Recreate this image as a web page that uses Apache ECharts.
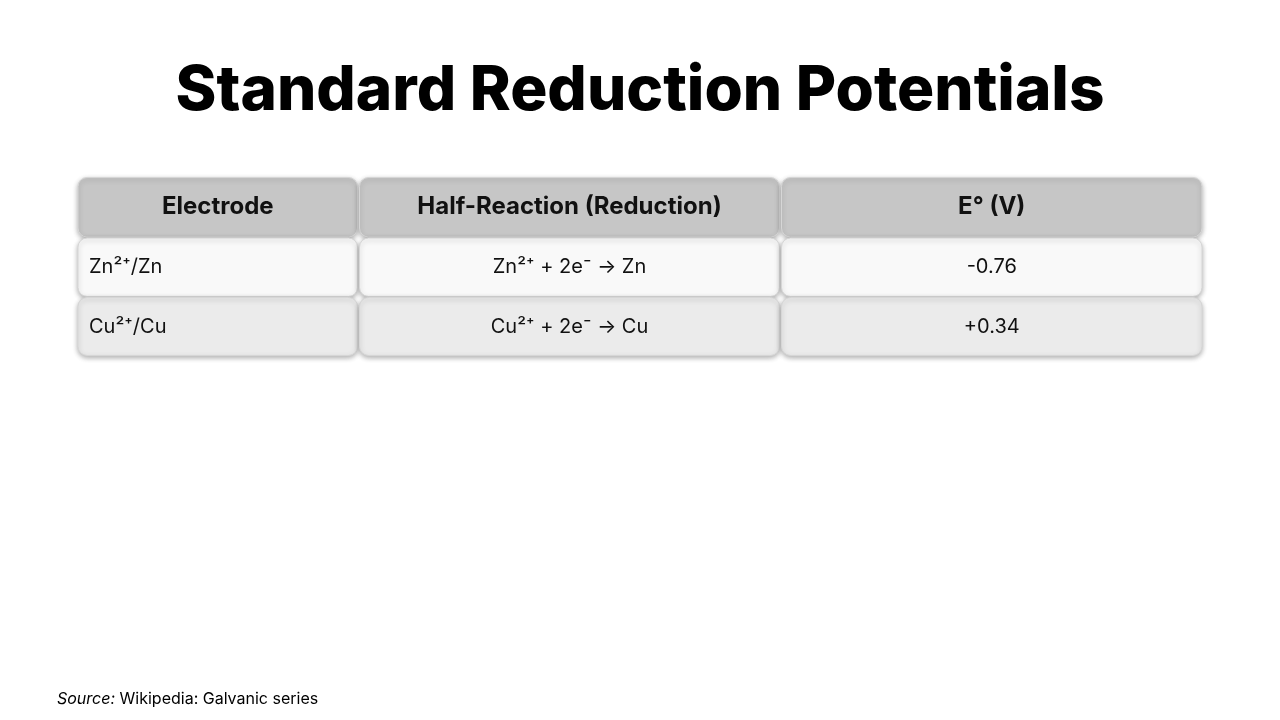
<!DOCTYPE html>
<html><head><meta charset="utf-8">
<script src="https://cdn.jsdelivr.net/npm/echarts@6/dist/echarts.min.js"></script>
<style>html,body{margin:0;padding:0;background:#fff}#c{width:1280px;height:720px}</style>
</head><body><div id="c"></div>
<script>
const headers = ['Electrode', 'Half-Reaction (Reduction)', 'E° (V)'];
const electrodes = ['Zn²⁺/Zn', 'Cu²⁺/Cu'];
const reactions = ['Zn²⁺ + 2e⁻ → Zn', 'Cu²⁺ + 2e⁻ → Cu'];
const potentials = ['-0.76', '+0.34'];

const colEdges = [77, 358.5, 780.5, 1203];
const rowEdges = [177, 237.5, 297, 356];
const rowFills = ['#c6c6c6', '#f9f9f9', '#ebebeb'];

const cells = [];
headers.forEach((h, c) => cells.push([c, 0, h]));
electrodes.forEach((e, r) => {
  cells.push([0, r + 1, e]);
  cells.push([1, r + 1, reactions[r]]);
  cells.push([2, r + 1, potentials[r]]);
});

const chart = echarts.init(document.getElementById('c'));
chart.setOption({
  backgroundColor: '#fff',
  title: [{
    text: 'Standard Reduction Potentials', left: 'center', top: 55,
    textStyle: { fontFamily: 'Inter', fontWeight: 800, fontSize: 62, color: '#000', letterSpacing: -1 }
  }],
  graphic: [{
    type: 'text', left: 57, top: 691,
    style: {
      text: '{i|Source:} Wikipedia: Galvanic series',
      rich: { i: { fontStyle: 'italic', fontFamily: 'Inter', fontSize: 16, fill: '#000' } },
      fontFamily: 'Inter', fontSize: 16, fill: '#000'
    }
  }],
  grid: { left: 0, right: 0, top: 0, bottom: 0 },
  xAxis: { type: 'value', min: 0, max: 1280, show: false },
  yAxis: { type: 'value', min: 0, max: 720, inverse: true, show: false },
  series: [{
    type: 'custom',
    data: cells,
    renderItem: function (params, api) {
      const c = api.value(0), r = api.value(1);
      const txt = cells[params.dataIndex][2];
      const p0 = api.coord([colEdges[c] + 1, rowEdges[r] + 0.5]);
      const p1 = api.coord([colEdges[c + 1] - 1, rowEdges[r + 1] - 0.5]);
      const w = p1[0] - p0[0], h = p1[1] - p0[1];
      const left = (c === 0 && r > 0);
      return {
        type: 'group',
        children: [{
          type: 'rect',
          shape: { x: p0[0], y: p0[1], width: w, height: h, r: 9 },
          style: { fill: rowFills[r], stroke: '#d6d6d6', lineWidth: 1,
            shadowBlur: 5, shadowOffsetY: 2, shadowColor: 'rgba(0,0,0,0.3)' }
        }, {
          type: 'text',
          style: {
            text: txt,
            x: left ? p0[0] + 11 : p0[0] + w / 2,
            y: p0[1] + h / 2,
            align: left ? 'left' : 'center', verticalAlign: 'middle',
            fontFamily: 'Inter', fontSize: r === 0 ? 24 : 20,
            fontWeight: r === 0 ? 700 : 400, fill: '#111'
          }
        }]
      };
    }
  }]
});
</script></body></html>
